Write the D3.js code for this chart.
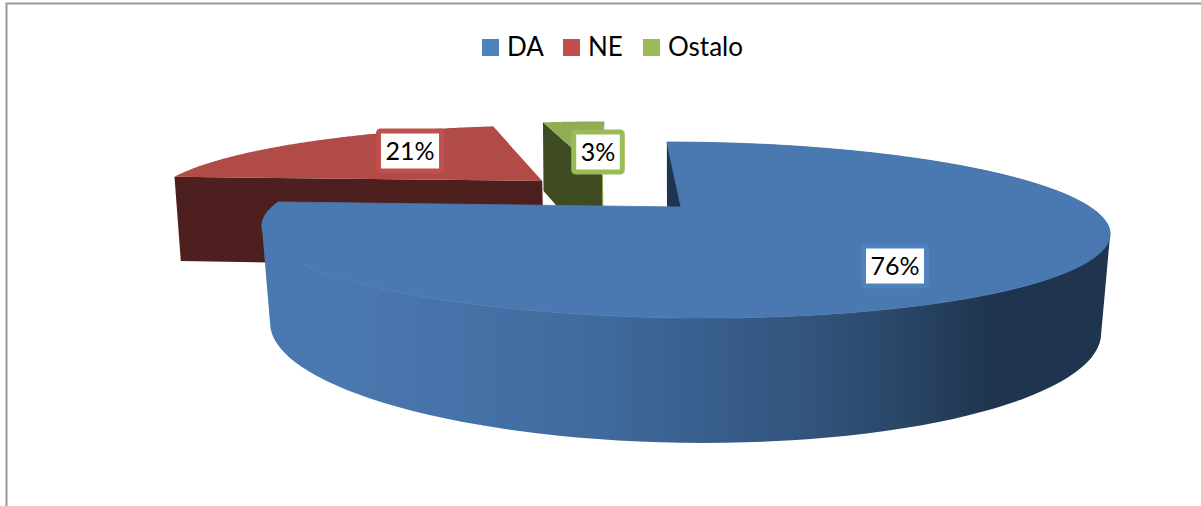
<!DOCTYPE html>
<html>
<head>
<meta charset="utf-8">
<script src="https://cdn.jsdelivr.net/npm/d3@7"></script>
<style>
  html, body { margin: 0; padding: 0; background: #fff; overflow: hidden; }
  text { font-family: Lato, "Open Sans", sans-serif; fill: #000; }
</style>
</head>
<body>
<script>
let categories = ['DA', 'NE', 'Ostalo']
let values = [76, 20.7, 3.3]
let labels = ['76%', '21%', '3%']

let width = 1201
let height = 506

let colors = { DA: '#4f81bd', NE: '#c0504d', Ostalo: '#9bbb59' }
let topColors = { DA: '#4a78b0', NE: '#b14b47', Ostalo: '#8fae54' }
let wallColors = { DA: '#1f344e', NE: '#4e1f1f', Ostalo: '#3f4b22' }

// how far each slice is pulled out, in units of the pie radius
let explode = { DA: [0, 0], NE: [-0.355, -0.346], Ostalo: [-0.195, -0.435] }
let labelCenter = { DA: [895, 266], NE: [410, 151], Ostalo: [598, 152] }

// perspective of the pie plane, fitted to the picture
let center = { x: 681, y: 207 }
let radius = 409
let tilt = 82
let persp = 0.2615
let vanishX = 68

function project(px, py) {
    let s = 1 / (1 - persp * py)
    return {
        x: radius * px * s + vanishX * (s - 1),
        y: tilt * py * s,
        s: s
    }
}

function topPoint(px, py) {
    let p = project(px, py)
    return [center.x + p.x, center.y + p.y]
}

function bottomPoint(px, py) {
    let p = project(px, py)
    let shrink = 0.047 * p.s - 0.03
    return [center.x + p.x * (1 - shrink), center.y + p.y + 90 * p.s + 3]
}

function rim(slice, offset, fn) {
    let n = 120
    return d3.range(n + 1).map(i => {
        let a = slice.startAngle + (slice.endAngle - slice.startAngle) * i / n
        return fn(offset[0] + Math.sin(a), offset[1] - Math.cos(a))
    })
}

let svg = d3.select('body')
    .append('svg')
        .attr('width', width)
        .attr('height', height)
        .style('display', 'block')

let defs = svg.append('defs')

let sideGradient = defs.append('linearGradient')
    .attr('id', 'blueSide')
    .attr('gradientUnits', 'userSpaceOnUse')
    .attr('x1', 262).attr('x2', 1110)
    .attr('y1', 0).attr('y2', 0)

sideGradient.selectAll('stop')
    .data([[0, '#4a78b0'], [0.08, '#4a78b0'], [0.2, '#4674aa'], [0.4, '#3f6a9c'], [0.63, '#33557f'], [0.75, '#2a4768'], [0.86, '#1f344e'], [1, '#1f344e']])
    .enter()
    .append('stop')
        .attr('offset', d => d[0])
        .attr('stop-color', d => d[1])

// chart frame, runs off the right and bottom of the picture
svg.append('rect')
    .attr('x', 6.5)
    .attr('y', 3.5)
    .attr('width', width + 20)
    .attr('height', height + 20)
    .attr('fill', 'none')
    .attr('stroke', '#9a9a9a')
    .attr('stroke-width', 2)

let pie = d3.pie().sort(null)
let slices = pie(values)
let line = d3.line()

let g = svg.append('g')

// far slices first, the big blue one goes over them
let order = [2, 1, 0]
order.forEach(i => {
    let name = categories[i]
    let slice = slices[i]
    let off = explode[name]
    let sliceG = g.append('g').attr('class', 'slice-' + name)

    let apexTop = topPoint(off[0], off[1])
    let apexBottom = bottomPoint(off[0], off[1])

    // outer side: quads in one path, all wound the same way, so no seams and the
    // silhouette stays filled past the tangent points
    if (name === 'DA') {
        let rimPairs = d3.pairs(d3.zip(rim(slice, off, topPoint), rim(slice, off, bottomPoint)))
        let quads = rimPairs.map(d => {
            let quad = [d[0][0], d[1][0], d[1][1], d[0][1]]
            if (d3.polygonArea(quad) < 0) quad.reverse()
            return line(quad) + 'Z'
        })
        sliceG.append('path')
            .attr('d', quads.join(''))
            .attr('fill', 'url(#blueSide)')
    }

    // cut face that can be seen from the viewer
    let a = slice.startAngle
    let fx = off[0] + Math.sin(a)
    let fy = off[1] - Math.cos(a)
    let wall = [apexTop, topPoint(fx, fy), bottomPoint(fx, fy), apexBottom]
    sliceG.append('path')
        .attr('d', line(wall) + 'Z')
        .attr('fill', wallColors[name])

    if (name === 'Ostalo') {
        sliceG.append('path')
            .attr('d', line([apexTop, apexBottom]))
            .attr('stroke', topColors[name])
            .attr('stroke-width', 1)
    }

    // top face, the thin stroke hides the hairline where it meets the side
    let face = [apexTop].concat(rim(slice, off, topPoint))
    sliceG.append('path')
        .attr('d', line(face) + 'Z')
        .attr('fill', topColors[name])
        .attr('stroke', name === 'DA' ? topColors[name] : 'none')
        .attr('stroke-width', 0.8)
})

// data labels
let labelG = svg.selectAll('.label')
    .data(categories)
    .enter()
    .append('g')
        .attr('class', 'label')
        .attr('transform', d => 'translate(' + labelCenter[d][0] + ',' + labelCenter[d][1] + ')')

labelG.append('text')
    .attr('text-anchor', 'middle')
    .attr('y', 9)
    .attr('font-size', 25)
    .text((d, i) => labels[i])

labelG.insert('rect', 'text')
    .each(function(d) {
        let w = d3.select(this.parentNode).select('text').node().getBBox().width + 14
        d3.select(this)
            .attr('x', -w / 2)
            .attr('y', -20)
            .attr('width', w)
            .attr('height', 40)
    })
    .attr('fill', '#fff')
    .attr('stroke', d => colors[d])
    .attr('stroke-width', 5)
    .attr('rx', 2)

// legend
let legendX = d3.scaleOrdinal().domain(categories).range([482, 563, 643])

let legend = svg.selectAll('.legend')
    .data(categories)
    .enter()
    .append('g')
        .attr('class', 'legend')
        .attr('transform', d => 'translate(' + legendX(d) + ',39)')

legend.append('rect')
    .attr('width', 17)
    .attr('height', 17)
    .attr('fill', d => colors[d])

legend.append('text')
    .attr('x', 25)
    .attr('y', 17)
    .attr('font-size', 26)
    .text(d => d)
</script>
</body>
</html>
